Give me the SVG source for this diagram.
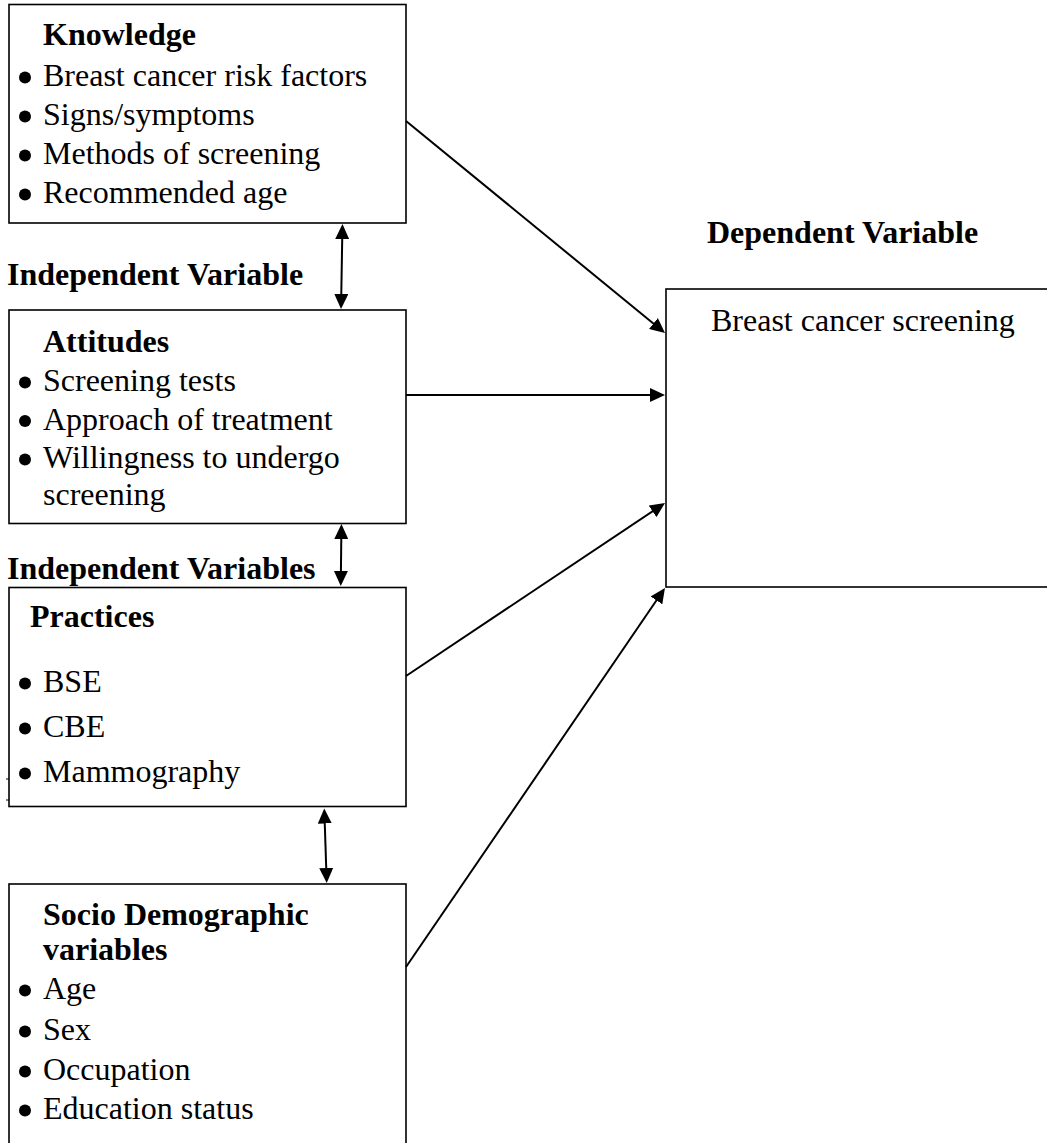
<svg xmlns="http://www.w3.org/2000/svg" width="1047" height="1143" viewBox="0 0 1047 1143">
<style>
.box{fill:#fff;stroke:#000;stroke-width:1.6}
.t{font-family:"Liberation Serif","Times New Roman",serif;font-size:32px;fill:#000}
.b{font-weight:bold}
.bul{fill:#000}
.con{stroke:#000;stroke-width:2;fill:none}
</style>
<defs>
<marker id="ah" viewBox="0 0 15 14" refX="11" refY="7" markerWidth="15" markerHeight="14" markerUnits="userSpaceOnUse" orient="auto-start-reverse">
<path d="M0,0 L15,7 L0,14 z" fill="#000"/>
</marker>
</defs>
<rect width="1047" height="1143" fill="#fff"/>

<g id="knowledge">
<rect class="box" x="9" y="4.5" width="397" height="218.5"/>
<text class="t b" x="43" y="45">Knowledge</text>
<circle class="bul" cx="25" cy="77.5" r="6"/>
<text class="t" x="43" y="86">Breast cancer risk factors</text>
<circle class="bul" cx="25" cy="116.5" r="6"/>
<text class="t" x="43" y="125">Signs/symptoms</text>
<circle class="bul" cx="25" cy="155.5" r="6"/>
<text class="t" x="43" y="164">Methods of screening</text>
<circle class="bul" cx="25" cy="194.5" r="6"/>
<text class="t" x="43" y="203">Recommended age</text>
</g>

<g id="label-independent-variable">
<text class="t b" x="7" y="285">Independent Variable</text>
</g>

<g id="attitudes">
<rect class="box" x="9" y="310" width="397" height="213.5"/>
<text class="t b" x="43" y="352">Attitudes</text>
<circle class="bul" cx="25" cy="382.5" r="6"/>
<text class="t" x="43" y="391">Screening tests</text>
<circle class="bul" cx="25" cy="421" r="6"/>
<text class="t" x="43" y="429.5">Approach of treatment</text>
<circle class="bul" cx="25" cy="459.5" r="6"/>
<text class="t" x="43" y="468">Willingness to undergo</text>
<text class="t" x="43" y="504.5">screening</text>
</g>

<g id="label-independent-variables">
<text class="t b" x="7" y="579">Independent Variables</text>
</g>

<g id="practices">
<rect class="box" x="9" y="587.5" width="397" height="219"/>
<text class="t b" x="30" y="627">Practices</text>
<circle class="bul" cx="25" cy="683.5" r="6"/>
<text class="t" x="43" y="692">BSE</text>
<circle class="bul" cx="25" cy="728.5" r="6"/>
<text class="t" x="43" y="737">CBE</text>
<circle class="bul" cx="25" cy="773.5" r="6"/>
<text class="t" x="43" y="782">Mammography</text>
<line x1="6" y1="779" x2="9" y2="779" stroke="#000" stroke-width="1"/>
<line x1="6" y1="800" x2="9" y2="800" stroke="#000" stroke-width="1"/>
</g>

<g id="socio">
<rect class="box" x="9" y="884" width="397" height="280"/>
<text class="t b" x="43" y="925">Socio Demographic</text>
<text class="t b" x="43" y="960">variables</text>
<circle class="bul" cx="25" cy="990.5" r="6"/>
<text class="t" x="43" y="999">Age</text>
<circle class="bul" cx="25" cy="1031.5" r="6"/>
<text class="t" x="43" y="1040">Sex</text>
<circle class="bul" cx="25" cy="1071.5" r="6"/>
<text class="t" x="43" y="1080">Occupation</text>
<circle class="bul" cx="25" cy="1110.5" r="6"/>
<text class="t" x="43" y="1119">Education status</text>
</g>

<g id="dependent">
<text class="t b" x="707" y="243">Dependent Variable</text>
<rect class="box" x="666" y="289" width="390" height="298"/>
<text class="t" x="711" y="331">Breast cancer screening</text>
</g>

<g id="connectors">
<line class="con" x1="406" y1="121" x2="661.9" y2="330.5" marker-end="url(#ah)"/>
<line class="con" x1="406" y1="395" x2="661" y2="395" marker-end="url(#ah)"/>
<line class="con" x1="406" y1="676" x2="661.7" y2="505.2" marker-end="url(#ah)"/>
<line class="con" x1="406" y1="967" x2="662.7" y2="591.3" marker-end="url(#ah)"/>
<line class="con" x1="342.4" y1="228" x2="341.1" y2="305" marker-start="url(#ah)" marker-end="url(#ah)"/>
<line class="con" x1="341.4" y1="528" x2="340.8" y2="582" marker-start="url(#ah)" marker-end="url(#ah)"/>
<line class="con" x1="324.4" y1="812.5" x2="326.6" y2="879" marker-start="url(#ah)" marker-end="url(#ah)"/>
</g>
</svg>
